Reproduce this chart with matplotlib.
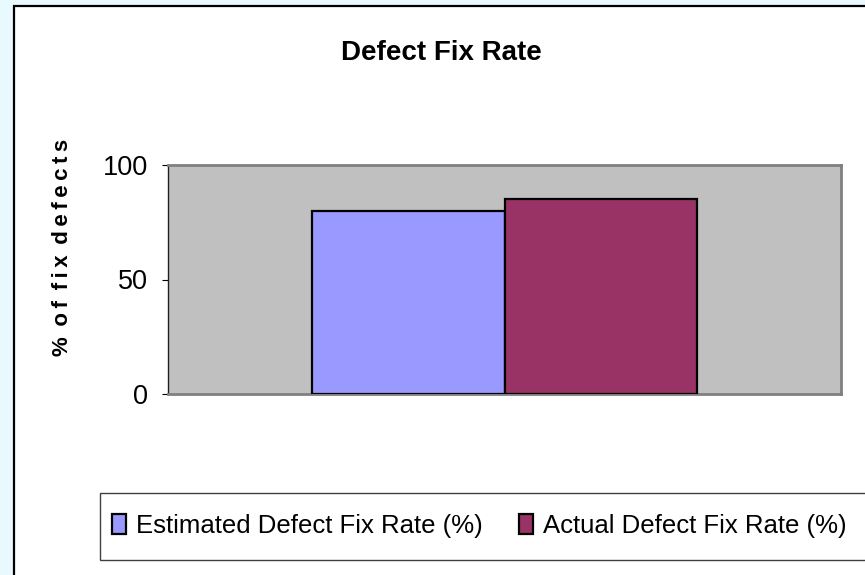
import matplotlib
matplotlib.use("Agg")
import matplotlib.pyplot as plt
from matplotlib.patches import Rectangle
from matplotlib import font_manager

categories = [""]
series_names = ["Estimated Defect Fix Rate (%)", "Actual Defect Fix Rate (%)"]
estimated = [80]
actual = [85]
yticks = [0, 50, 100]
title = "Defect Fix Rate"
ylabel = "% of fix defects"

avail = {f.name for f in font_manager.fontManager.ttflist}
FAM = ["Liberation Sans Narrow", "Liberation Sans", "DejaVu Sans"]
FAM = [f for f in FAM if f in avail] or ["DejaVu Sans"]
plt.rcParams["font.family"] = FAM

W, H = 865, 575
fig = plt.figure(figsize=(W / 100, H / 100), dpi=100)
fig.patch.set_facecolor("#E8FAFD")

# chart area border (extends past right/bottom edge)
fig.patches.append(Rectangle((14 / W, -0.1), 1.2, (H - 6) / H + 0.1,
                             transform=fig.transFigure, facecolor="white",
                             edgecolor="black", linewidth=1.6, zorder=-2))

ax = fig.add_axes([168 / W, 1 - 394 / H, (841 - 168) / W, (394 - 165) / H])
ax.set_zorder(3)
ax.set_facecolor("#C0C0C0")

x = list(range(len(categories)))
bw = 0.2855
ax.bar([i - bw / 2 for i in x], estimated, width=bw, color="#9999FF",
       edgecolor="black", linewidth=1.6, label=series_names[0], zorder=3)
ax.bar([i + bw / 2 for i in x], actual, width=bw, color="#993366",
       edgecolor="black", linewidth=1.6, label=series_names[1], zorder=3)

ax.set_xlim(-0.5, len(categories) - 0.5)
ax.set_ylim(0, 100)
ax.set_yticks(yticks)
ax.set_yticklabels([str(t) for t in yticks], fontsize=19.5)
ax.set_xticks([])
ax.tick_params(axis="y", direction="out", length=4.5, width=0.8, pad=10,
               color="black")
for s in ["top", "right", "bottom"]:
    ax.spines[s].set_color("#808080")
    ax.spines[s].set_linewidth(2)
ax.spines["left"].set_color("#202020")
ax.spines["left"].set_linewidth(1)

fig.text(441 / W, 1 - 53 / H, title, ha="center", va="center",
         fontsize=20, fontweight="bold")

spaced = " \u2009".join("\u2009".join(list(w)) for w in ylabel.split(" "))
fig.text(62 / W, 1 - 247 / H, spaced, rotation=90, ha="center", va="center",
         fontsize=16, fontweight="bold")

# legend box (extends past right edge)
fig.patches.append(Rectangle((100 / W, 1 - 560 / H), 1.0, (560 - 493) / H,
                             transform=fig.transFigure, facecolor="white",
                             edgecolor="#404040", linewidth=1.0, zorder=-1))
handles, labels = ax.get_legend_handles_labels()
leg = fig.legend(handles, labels, loc="center left",
                 bbox_to_anchor=(104 / W, 1 - 526 / H), ncol=2, frameon=False,
                 fontsize=18.5, handlelength=0.55, handleheight=0.8,
                 handletextpad=0.4, columnspacing=1.4, borderaxespad=0,
                 borderpad=0.3)
leg.set_zorder(5)

fig.savefig("out.png", dpi=100, facecolor=fig.get_facecolor())
